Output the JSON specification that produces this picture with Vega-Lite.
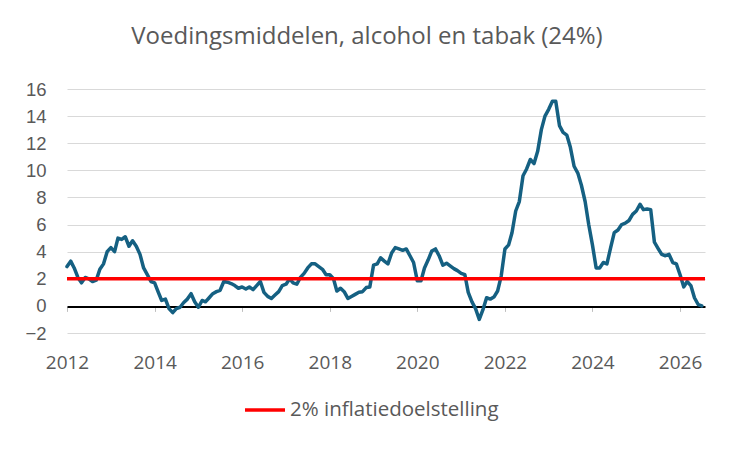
{
  "$schema": "https://vega.github.io/schema/vega-lite/v6.json",
  "background": "white",
  "autosize": {"type": "none"},
  "padding": {"left": 67, "top": 89, "right": 30, "bottom": 119},
  "width": 638,
  "height": 244,
  "title": {
    "text": "Voedingsmiddelen, alcohol en tabak (24%)",
    "font": "Open Sans",
    "fontSize": 24,
    "fontWeight": "normal",
    "color": "#595959",
    "anchor": "middle",
    "dx": -19,
    "offset": 31
  },
  "config": {
    "view": {"stroke": null},
    "font": "Open Sans",
    "axisY": {
      "title": null,
      "values": [-2, 0, 2, 4, 6, 8, 10, 12, 14, 16],
      "domain": false,
      "ticks": false,
      "grid": true,
      "gridWidth": 1,
      "labelPadding": 21,
      "labelFontSize": 18.5,
      "labelColor": "#595959",
      "labelFont": "Liberation Sans",
      "labelOverlap": false,
      "labelFlush": false
    }
  },
  "layer": [
    {
      "data": {
        "values": [
          {"d": "2012-01-01", "v": 2.9}, {"d": "2012-02-01", "v": 3.3}, {"d": "2012-03-01", "v": 2.8}, {"d": "2012-04-01", "v": 2.1},
          {"d": "2012-05-01", "v": 1.7}, {"d": "2012-06-01", "v": 2.1}, {"d": "2012-07-01", "v": 2.0}, {"d": "2012-08-01", "v": 1.8},
          {"d": "2012-09-01", "v": 1.9}, {"d": "2012-10-01", "v": 2.7}, {"d": "2012-11-01", "v": 3.1}, {"d": "2012-12-01", "v": 4.0},
          {"d": "2013-01-01", "v": 4.3}, {"d": "2013-02-01", "v": 4.0}, {"d": "2013-03-01", "v": 5.0}, {"d": "2013-04-01", "v": 4.9},
          {"d": "2013-05-01", "v": 5.1}, {"d": "2013-06-01", "v": 4.4}, {"d": "2013-07-01", "v": 4.8}, {"d": "2013-08-01", "v": 4.4},
          {"d": "2013-09-01", "v": 3.8}, {"d": "2013-10-01", "v": 2.8}, {"d": "2013-11-01", "v": 2.3}, {"d": "2013-12-01", "v": 1.8},
          {"d": "2014-01-01", "v": 1.7}, {"d": "2014-02-01", "v": 1.0}, {"d": "2014-03-01", "v": 0.4}, {"d": "2014-04-01", "v": 0.5},
          {"d": "2014-05-01", "v": -0.2}, {"d": "2014-06-01", "v": -0.5}, {"d": "2014-07-01", "v": -0.2}, {"d": "2014-08-01", "v": -0.1},
          {"d": "2014-09-01", "v": 0.25}, {"d": "2014-10-01", "v": 0.5}, {"d": "2014-11-01", "v": 0.9}, {"d": "2014-12-01", "v": 0.3},
          {"d": "2015-01-01", "v": -0.1}, {"d": "2015-02-01", "v": 0.4}, {"d": "2015-03-01", "v": 0.3}, {"d": "2015-04-01", "v": 0.6},
          {"d": "2015-05-01", "v": 0.9}, {"d": "2015-06-01", "v": 1.05}, {"d": "2015-07-01", "v": 1.15}, {"d": "2015-08-01", "v": 1.8},
          {"d": "2015-09-01", "v": 1.75}, {"d": "2015-10-01", "v": 1.65}, {"d": "2015-11-01", "v": 1.5}, {"d": "2015-12-01", "v": 1.3},
          {"d": "2016-01-01", "v": 1.4}, {"d": "2016-02-01", "v": 1.25}, {"d": "2016-03-01", "v": 1.4}, {"d": "2016-04-01", "v": 1.2},
          {"d": "2016-05-01", "v": 1.5}, {"d": "2016-06-01", "v": 1.8}, {"d": "2016-07-01", "v": 1.0}, {"d": "2016-08-01", "v": 0.7},
          {"d": "2016-09-01", "v": 0.55}, {"d": "2016-10-01", "v": 0.8}, {"d": "2016-11-01", "v": 1.05}, {"d": "2016-12-01", "v": 1.5},
          {"d": "2017-01-01", "v": 1.6}, {"d": "2017-02-01", "v": 2.0}, {"d": "2017-03-01", "v": 1.7}, {"d": "2017-04-01", "v": 1.6},
          {"d": "2017-05-01", "v": 2.1}, {"d": "2017-06-01", "v": 2.4}, {"d": "2017-07-01", "v": 2.8}, {"d": "2017-08-01", "v": 3.1},
          {"d": "2017-09-01", "v": 3.1}, {"d": "2017-10-01", "v": 2.9}, {"d": "2017-11-01", "v": 2.7}, {"d": "2017-12-01", "v": 2.3},
          {"d": "2018-01-01", "v": 2.3}, {"d": "2018-02-01", "v": 2.0}, {"d": "2018-03-01", "v": 1.1}, {"d": "2018-04-01", "v": 1.3},
          {"d": "2018-05-01", "v": 1.05}, {"d": "2018-06-01", "v": 0.55}, {"d": "2018-07-01", "v": 0.7}, {"d": "2018-08-01", "v": 0.85},
          {"d": "2018-09-01", "v": 1.0}, {"d": "2018-10-01", "v": 1.05}, {"d": "2018-11-01", "v": 1.35}, {"d": "2018-12-01", "v": 1.4},
          {"d": "2019-01-01", "v": 3.0}, {"d": "2019-02-01", "v": 3.1}, {"d": "2019-03-01", "v": 3.55}, {"d": "2019-04-01", "v": 3.3},
          {"d": "2019-05-01", "v": 3.1}, {"d": "2019-06-01", "v": 3.9}, {"d": "2019-07-01", "v": 4.3}, {"d": "2019-08-01", "v": 4.2},
          {"d": "2019-09-01", "v": 4.1}, {"d": "2019-10-01", "v": 4.2}, {"d": "2019-11-01", "v": 3.7}, {"d": "2019-12-01", "v": 3.2},
          {"d": "2020-01-01", "v": 1.85}, {"d": "2020-02-01", "v": 1.85}, {"d": "2020-03-01", "v": 2.8}, {"d": "2020-04-01", "v": 3.4},
          {"d": "2020-05-01", "v": 4.05}, {"d": "2020-06-01", "v": 4.2}, {"d": "2020-07-01", "v": 3.7}, {"d": "2020-08-01", "v": 3.0},
          {"d": "2020-09-01", "v": 3.15}, {"d": "2020-10-01", "v": 2.95}, {"d": "2020-11-01", "v": 2.75}, {"d": "2020-12-01", "v": 2.6},
          {"d": "2021-01-01", "v": 2.4}, {"d": "2021-02-01", "v": 2.3}, {"d": "2021-03-01", "v": 1.0}, {"d": "2021-04-01", "v": 0.3},
          {"d": "2021-05-01", "v": -0.2}, {"d": "2021-06-01", "v": -1.0}, {"d": "2021-07-01", "v": -0.3}, {"d": "2021-08-01", "v": 0.6},
          {"d": "2021-09-01", "v": 0.5}, {"d": "2021-10-01", "v": 0.65}, {"d": "2021-11-01", "v": 1.1}, {"d": "2021-12-01", "v": 2.2},
          {"d": "2022-01-01", "v": 4.2}, {"d": "2022-02-01", "v": 4.5}, {"d": "2022-03-01", "v": 5.4}, {"d": "2022-04-01", "v": 7.0},
          {"d": "2022-05-01", "v": 7.7}, {"d": "2022-06-01", "v": 9.6}, {"d": "2022-07-01", "v": 10.1}, {"d": "2022-08-01", "v": 10.8},
          {"d": "2022-09-01", "v": 10.5}, {"d": "2022-10-01", "v": 11.4}, {"d": "2022-11-01", "v": 13.0}, {"d": "2022-12-01", "v": 14.0},
          {"d": "2023-01-01", "v": 14.5}, {"d": "2023-02-01", "v": 15.1}, {"d": "2023-03-01", "v": 15.1}, {"d": "2023-04-01", "v": 13.3},
          {"d": "2023-05-01", "v": 12.8}, {"d": "2023-06-01", "v": 12.6}, {"d": "2023-07-01", "v": 11.7}, {"d": "2023-08-01", "v": 10.3},
          {"d": "2023-09-01", "v": 9.8}, {"d": "2023-10-01", "v": 8.9}, {"d": "2023-11-01", "v": 7.7}, {"d": "2023-12-01", "v": 6.0},
          {"d": "2024-01-01", "v": 4.5}, {"d": "2024-02-01", "v": 2.8}, {"d": "2024-03-01", "v": 2.8}, {"d": "2024-04-01", "v": 3.2},
          {"d": "2024-05-01", "v": 3.1}, {"d": "2024-06-01", "v": 4.3}, {"d": "2024-07-01", "v": 5.4}, {"d": "2024-08-01", "v": 5.6},
          {"d": "2024-09-01", "v": 6.0}, {"d": "2024-10-01", "v": 6.1}, {"d": "2024-11-01", "v": 6.3}, {"d": "2024-12-01", "v": 6.75},
          {"d": "2025-01-01", "v": 7.0}, {"d": "2025-02-01", "v": 7.5}, {"d": "2025-03-01", "v": 7.1}, {"d": "2025-04-01", "v": 7.15},
          {"d": "2025-05-01", "v": 7.1}, {"d": "2025-06-01", "v": 4.7}, {"d": "2025-07-01", "v": 4.25}, {"d": "2025-08-01", "v": 3.8},
          {"d": "2025-09-01", "v": 3.7}, {"d": "2025-10-01", "v": 3.8}, {"d": "2025-11-01", "v": 3.2}, {"d": "2025-12-01", "v": 3.1},
          {"d": "2026-01-01", "v": 2.3}, {"d": "2026-02-01", "v": 1.4}, {"d": "2026-03-01", "v": 1.8}, {"d": "2026-04-01", "v": 1.5},
          {"d": "2026-05-01", "v": 0.6}, {"d": "2026-06-01", "v": 0.1}, {"d": "2026-07-01", "v": 0.0}
        ]
      },
      "mark": {"type": "line", "color": "#156082", "strokeWidth": 3.5, "strokeJoin": "round", "strokeCap": "round"},
      "encoding": {
        "x": {
          "field": "d",
          "type": "temporal",
          "scale": {
            "type": "utc",
            "domain": [
              {"year": 2012, "month": 1, "date": 1, "utc": true},
              {"year": 2026, "month": 7, "date": 28, "utc": true}
            ]
          },
          "axis": {
            "title": null,
            "values": [
              {"year": 2012, "month": 1, "date": 1, "utc": true},
              {"year": 2014, "month": 1, "date": 1, "utc": true},
              {"year": 2016, "month": 1, "date": 1, "utc": true},
              {"year": 2018, "month": 1, "date": 1, "utc": true},
              {"year": 2020, "month": 1, "date": 1, "utc": true},
              {"year": 2022, "month": 1, "date": 1, "utc": true},
              {"year": 2024, "month": 1, "date": 1, "utc": true},
              {"year": 2026, "month": 1, "date": 1, "utc": true}
            ],
            "format": "%Y",
            "formatType": "utc",
            "offset": -26.6,
            "grid": false,
            "domain": true,
            "domainColor": "black",
            "domainWidth": 2,
            "ticks": true,
            "tickColor": "#bfbfbf",
            "tickSize": 5,
            "labelPadding": 42,
            "labelFontSize": 19,
            "labelColor": "#595959",
            "labelFont": "Open Sans",
            "labelFlush": false,
            "labelOverlap": false
          }
        },
        "y": {
          "field": "v",
          "type": "quantitative",
          "scale": {"domain": [-2, 16], "nice": false, "zero": false},
          "axis": {
            "gridColor": {"condition": {"test": "datum.value === 0", "value": "transparent"}, "value": "#d9d9d9"}
          }
        }
      }
    },
    {
      "data": {"values": [{"doel": 2, "reeks": "2% inflatiedoelstelling"}]},
      "mark": {"type": "rule", "strokeWidth": 3.5},
      "encoding": {
        "y": {"field": "doel", "type": "quantitative"},
        "color": {
          "field": "reeks",
          "type": "nominal",
          "scale": {"range": ["#ff0000"]},
          "legend": {
            "title": null,
            "orient": "none",
            "legendX": 176,
            "legendY": 299,
            "padding": 0,
            "symbolType": "stroke",
            "symbolSize": 1600,
            "symbolStrokeWidth": 3.5,
            "labelFontSize": 20.5,
            "labelColor": "#595959",
            "labelFont": "Open Sans",
            "labelLimit": 400,
            "labelOffset": 3
          }
        }
      }
    }
  ]
}
